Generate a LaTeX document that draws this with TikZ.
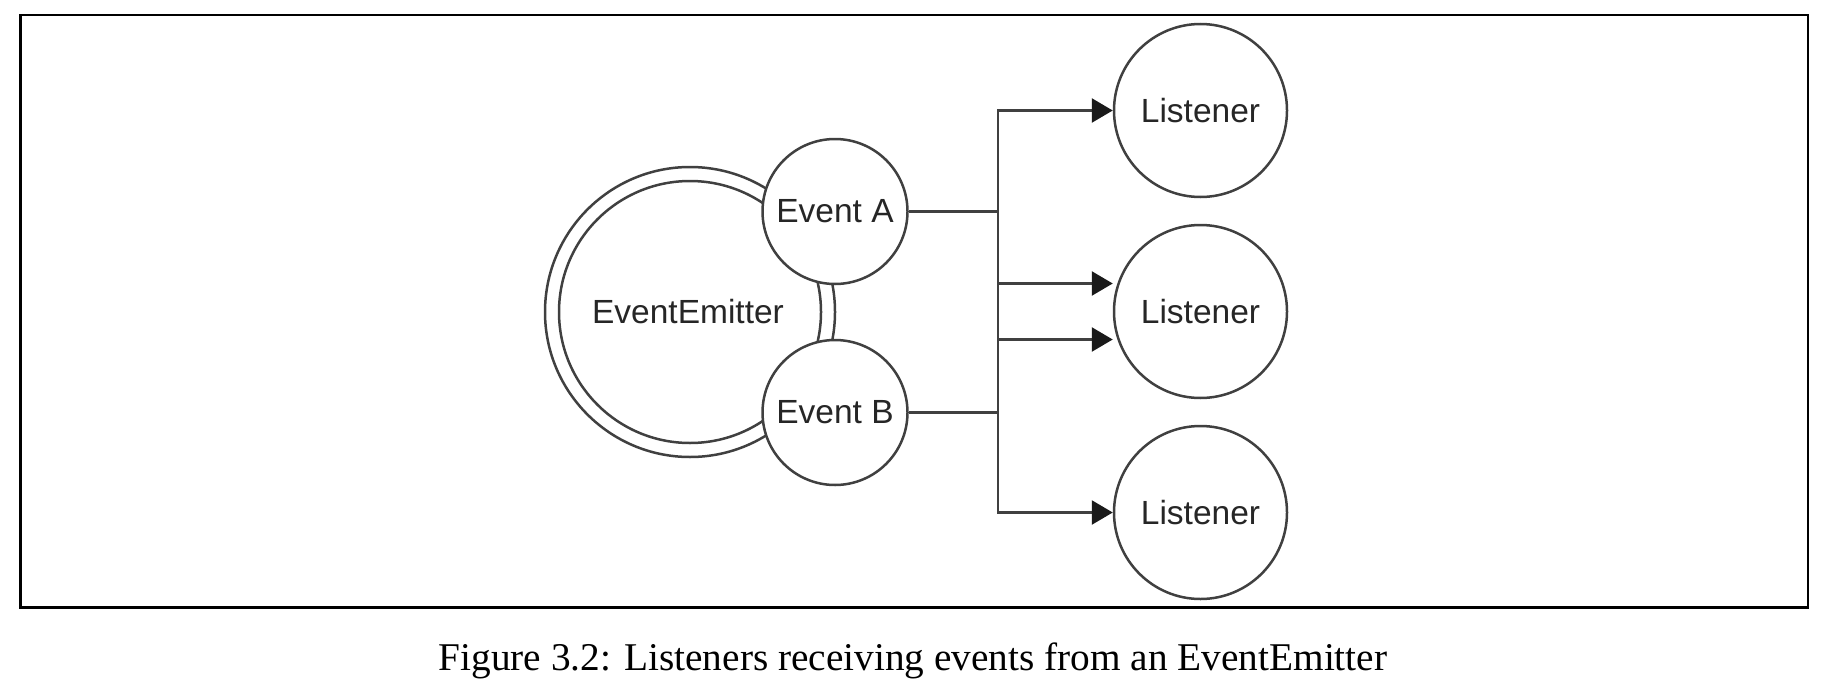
\documentclass[tikz,border=0pt]{standalone}
\usepackage{fontspec}
\setmainfont{Liberation Serif}
\newfontfamily\diagfont{Liberation Sans}
\usetikzlibrary{arrows.meta}
\definecolor{linegray}{HTML}{404040}
\definecolor{textgray}{HTML}{262626}
\definecolor{arrowblack}{HTML}{1A1A1A}
\tikzset{
  evt/.style={circle, draw=linegray, line width=2.5pt, fill=white, minimum size=145pt, inner sep=0pt,
    text=textgray, font=\diagfont\fontsize{33.5}{38}\selectfont},
  lst/.style={circle, draw=linegray, line width=2.5pt, fill=white, minimum size=173pt, inner sep=0pt,
    text=textgray, font=\diagfont\fontsize{33.5}{38}\selectfont},
  ring/.style={draw=linegray, line width=2.5pt},
  conn/.style={draw=linegray, line width=2.6pt},
  arr/.style={conn, -{Triangle[length=21pt,width=24pt,color=arrowblack]}},
  frame/.style={draw=black, line width=2.5pt}
}
\begin{document}
\begin{tikzpicture}[x=1pt,y=-1pt]
\useasboundingbox (0,0) rectangle (1826,696);
\draw[frame] (20.5,15) rectangle (1808,607.5);
% EventEmitter double ring
\coordinate (emc) at (690,312);
\draw[ring] (emc) circle[radius=145];
\draw[ring] (emc) circle[radius=131];
\node[text=textgray, font=\diagfont\fontsize{33.5}{38}\selectfont] (em) at (688,312) {EventEmitter};
% events
\node[evt] (ea) at (835,211.5) {Event A};
\node[evt] (eb) at (835,412.5) {Event B};
% listeners
\node[lst] (l1) at (1200.5,110.5) {Listener};
\node[lst] (l2) at (1200.5,311.5) {Listener};
\node[lst] (l3) at (1200.5,512.5) {Listener};
% junctions
\coordinate (ja) at (998,211.5);
\coordinate (jb) at (998,412.5);
\draw[conn] (ea.east) -- (ja);
\draw[conn] (eb.east) -- (jb);
\draw[arr] (ja) |- (l1.west);
\draw[arr] (ja) |- ([yshift=-28pt]l2.west);
\draw[arr] (jb) |- ([yshift=28pt]l2.west);
\draw[arr] (jb) |- (l3.west);
% caption
\node[font=\fontsize{39.3}{44}\selectfont, text=black] (cap) at (913,661) {Figure 3.2: Listeners receiving events from an EventEmitter};
\end{tikzpicture}
\end{document}
